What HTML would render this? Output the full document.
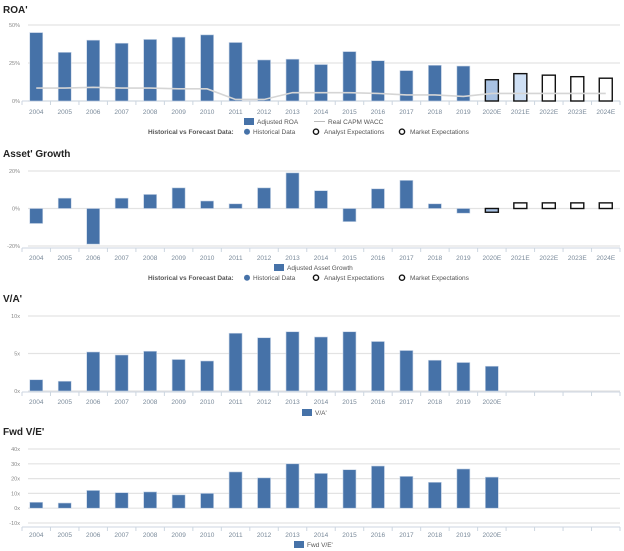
<!DOCTYPE html>
<html><head><meta charset="utf-8"><style>
body{margin:0;background:#fff;font-family:"Liberation Sans",sans-serif}
svg{display:block}
</style></head><body>
<svg id="s" width="624" height="551" xmlns="http://www.w3.org/2000/svg"></svg>
<script>
const years=["2004","2005","2006","2007","2008","2009","2010","2011","2012","2013","2014","2015","2016","2017","2018","2019","2020E","2021E","2022E","2023E","2024E"];
const roaHist=[45,32,40,38,40.5,42,43.5,38.5,27,27.5,24,32.5,26.5,20,23.5,23];
const roaFcst=[14,18,17,16,15];
const wacc=[8.5,8.5,9,8.5,8.5,8,8,1,1,5.5,5.5,5.5,5,4,4,3,5,5,5,5,5];
const agHist=[-8,5.5,-19,5.5,7.5,11,4,2.5,11,19,9.5,-7,10.5,15,2.5,-2.5];
const agFcst=[-2,3,3,3,3];
const vaVals=[1.5,1.3,5.2,4.8,5.3,4.2,4.0,7.7,7.1,7.9,7.2,7.9,6.6,5.4,4.1,3.8,3.3];
const veVals=[4,3.5,12,10.5,11,9,10,24.5,20.5,30,23.5,26,28.5,21.5,17.5,26.5,21];
const roaTicks=["0%","25%","50%"],agTicks=["-20%","0%","20%"],vaTicks=["0x","5x","10x"],veTicks=["-10x","0x","10x","20x","30x","40x"];

const S=document.getElementById('s'),NS="http://www.w3.org/2000/svg";
function el(t,a,p){const e=document.createElementNS(NS,t);for(const k in a)e.setAttribute(k,a[k]);(p||S).appendChild(e);return e;}
const X0=22,X1=620,SL=(X1-X0)/21,BW=13;
const cx=i=>X0+SL*(i+0.5);
function txt(x,y,s,o){const t=el('text',Object.assign({x:x,y:y,'font-size':6.5,fill:'#7a8a9a'},o||{}));t.textContent=s;return t;}

function chart(name,title,ty,ymin,ymax,yTop,yBot,ticks,tickVals,axisY,labY,nLab){
  const g=el('g',{});
  
  
  const t=el('text',{x:3,y:ty,'font-size':10,'font-weight':'bold',fill:'#222'},g);t.textContent=title;
  
  const ys=v=>yBot-(v-ymin)/(ymax-ymin)*(yBot-yTop);
  tickVals.forEach((v,i)=>{
    el('line',{x1:X0+6,x2:X1,y1:ys(v),y2:ys(v),stroke:'#e3e3e3','stroke-width':1.2},g);
    const l=txt(X0-2,ys(v)+2,ticks[i],{'text-anchor':'end','font-size':5.5,fill:'#888'});g.appendChild(l);
    
  });
  el('line',{x1:X0,x2:X1,y1:axisY,y2:axisY,stroke:'#ccd6e0'},g);
  for(let i=0;i<=21;i++)el('line',{x1:X0+SL*i,x2:X0+SL*i,y1:axisY,y2:axisY+4,stroke:'#ccd6e0'},g);
  for(let i=0;i<nLab;i++){const l=txt(cx(i),labY,years[i],{'text-anchor':'middle'});g.appendChild(l);
    }
  return {g,ys};
}
function bar(g,ys,i,v,fill,stroke,sw,name){
  const y0=ys(0),y=ys(v);
  const r=el('rect',{x:cx(i)-BW/2,y:Math.min(y,y0),width:BW,height:Math.max(Math.abs(y0-y),0.5),fill:fill,stroke:stroke,'stroke-width':sw},g);
  
}
function legendBar(x,y,label){
  el('rect',{x:x,y:y-6,width:10,height:7,fill:'#4672a8'});txt(x+13,y,label,{fill:'#555'});
}
function legendFcst(y){
  txt(148,y,'Historical vs Forecast Data:',{fill:'#555','font-weight':'bold'});
  el('circle',{cx:247,cy:y-2.3,r:3,fill:'#4672a8'});txt(253,y,'Historical Data',{fill:'#555'});
  el('circle',{cx:316,cy:y-2.3,r:2.6,fill:'none',stroke:'#111','stroke-width':1.4});txt(324,y,'Analyst Expectations',{fill:'#555'});
  el('circle',{cx:402,cy:y-2.3,r:2.6,fill:'none',stroke:'#111','stroke-width':1.4});txt(410,y,'Market Expectations',{fill:'#555'});
}

// ROA
let c=chart('roa',"ROA'",13,0,50,25,101,roaTicks,[0,25,50],101,114,21);
roaHist.forEach((v,i)=>bar(c.g,c.ys,i,v,'#4672a8','#c5d3e6',0.6,'roa-bar-'+years[i]));
roaFcst.forEach((v,j)=>{const i=16+j;bar(c.g,c.ys,i,v,j==0?'#a9c2e3':(j==1?'#cfe0f5':'#fff'),'#111',1.4,'roa-bar-'+years[i]);});
const wl=el('polyline',{points:wacc.map((v,i)=>cx(i)+','+c.ys(v)).join(' '),fill:'none',stroke:'#d5d5d5','stroke-width':1.6},c.g);

legendBar(244,124,'Adjusted ROA');
el('line',{x1:314,x2:325,y1:121.5,y2:121.5,stroke:'#bbb'});txt(328,124,'Real CAPM WACC',{fill:'#555'});
legendFcst(134);

// Asset growth
c=chart('asset-growth',"Asset' Growth",157,-20,20,171,246,agTicks,[-20,0,20],248,260,21);
agHist.forEach((v,i)=>bar(c.g,c.ys,i,v,'#4672a8','#c5d3e6',0.6,'ag-bar-'+years[i]));
agFcst.forEach((v,j)=>{const i=16+j;bar(c.g,c.ys,i,v,j==0?'#a9c2e3':'#fff','#111',1.4,'ag-bar-'+years[i]);});
legendBar(274,270,'Adjusted Asset Growth');
legendFcst(280);

// V/A
c=chart('va',"V/A'",302,0,10,316,391,vaTicks,[0,5,10],392,404,17);
vaVals.forEach((v,i)=>bar(c.g,c.ys,i,v,'#4672a8','#c5d3e6',0.6,'va-bar-'+years[i]));
legendBar(302,415,"V/A'");

// Fwd V/E
c=chart('fwd-ve',"Fwd V/E'",435,-10,40,449,523,veTicks,[-10,0,10,20,30,40],527,537,17);
veVals.forEach((v,i)=>bar(c.g,c.ys,i,v,'#4672a8','#c5d3e6',0.6,'ve-bar-'+years[i]));
legendBar(294,547,"Fwd V/E'");
</script>
</body></html>
